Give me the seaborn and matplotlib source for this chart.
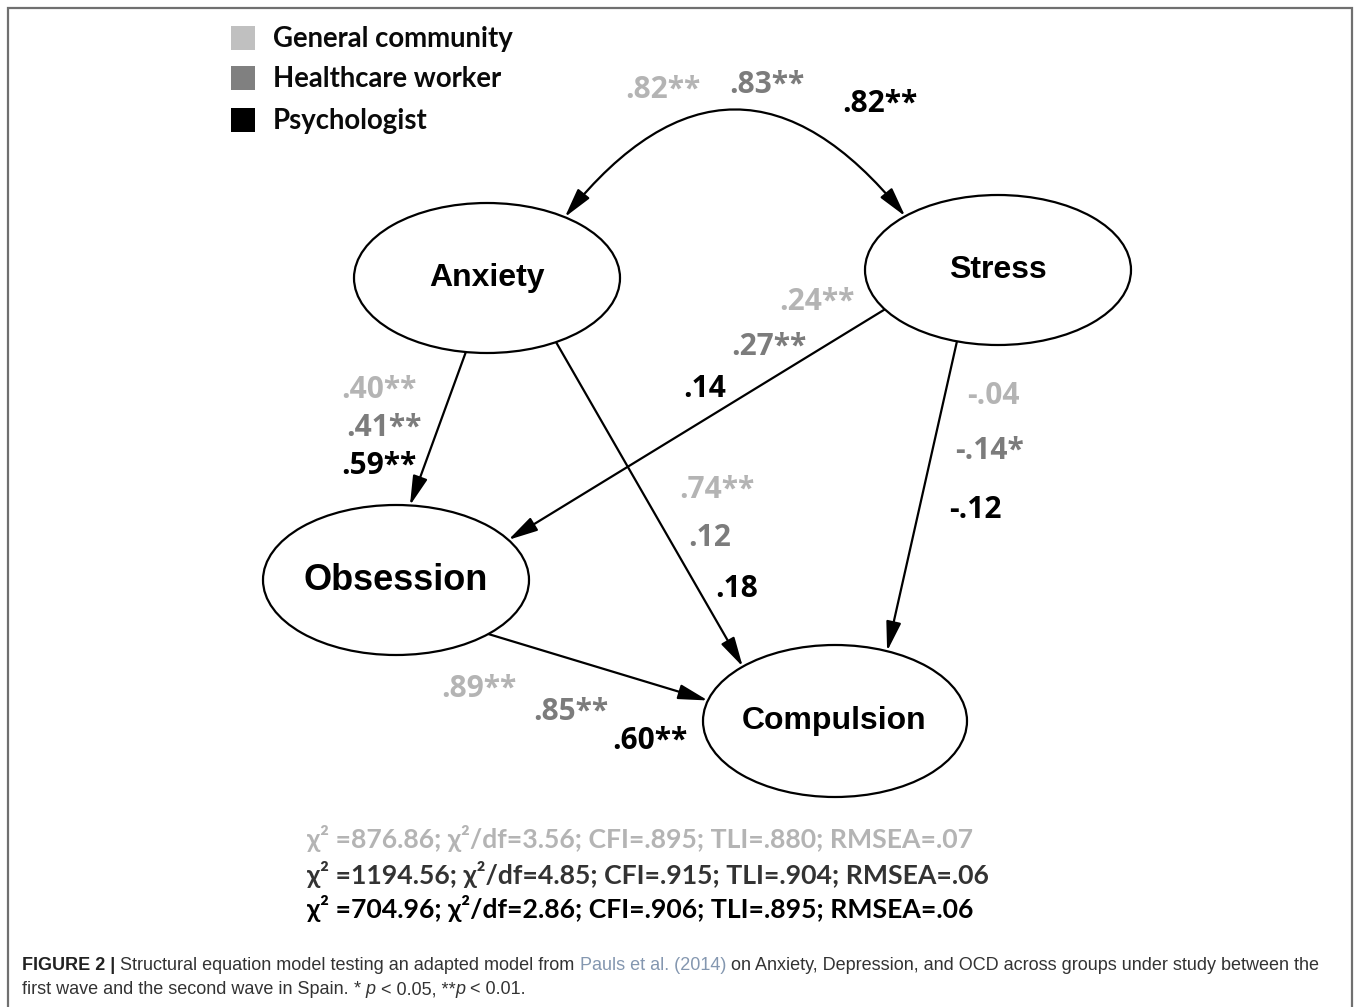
import matplotlib
matplotlib.use('Agg')
import numpy as np
import pandas as pd
import seaborn as sns
import matplotlib.pyplot as plt
from matplotlib.patches import Ellipse, FancyArrowPatch

# groups (legend) and their colours
groups = ['General community', 'Healthcare worker', 'Psychologist']
group_colors = ['#c0c0c0', '#808080', '#000000']
text_colors = ['#b4b4b4', '#7c7c7c', '#000000']

# latent variables
nodes = ['Anxiety', 'Stress', 'Obsession', 'Compulsion']

# path coefficients, one value per group (general, healthcare, psychologist)
paths = [
    ('Anxiety', 'Stress'),
    ('Stress', 'Obsession'),
    ('Anxiety', 'Obsession'),
    ('Stress', 'Compulsion'),
    ('Anxiety', 'Compulsion'),
    ('Obsession', 'Compulsion'),
]
coef_general = ['.82**', '.24**', '.40**', '-.04', '.74**', '.89**']
coef_health = ['.83**', '.27**', '.41**', '-.14*', '.12', '.85**']
coef_psych = ['.82**', '.14', '.59**', '-.12', '.18', '.60**']

# fit indices per group
fit_chi2 = ['876.86', '1194.56', '704.96']
fit_chi2df = ['3.56', '4.85', '2.86']
fit_cfi = ['.895', '.915', '.906']
fit_tli = ['.880', '.904', '.895']
fit_rmsea = ['.07', '.06', '.06']
fit_colors = ['#b4b4b4', '#333333', '#000000']

W, H = 1358, 1007

# ---- layout (pixel space) ----
node_pos = {
    'Anxiety': (487, 278, 133, 75),
    'Stress': (998, 270, 133, 75),
    'Obsession': (396, 580, 133, 75),
    'Compulsion': (835, 721, 132, 76),
}
node_size = {'Anxiety': 23, 'Stress': 23, 'Obsession': 26, 'Compulsion': 23}
node_label = {'Anxiety': (487, 278), 'Stress': (998, 270),
              'Obsession': (396, 580), 'Compulsion': (834, 721)}
# rough anchor points on the ellipses, snapped onto the outline below
edge_anchor = {
    ('Anxiety', 'Stress'): ((565, 217), (903, 215)),
    ('Stress', 'Obsession'): ((883, 310), (508, 540)),
    ('Anxiety', 'Obsession'): ((465, 355), (410, 505)),
    ('Stress', 'Compulsion'): ((956, 343), (888, 650)),
    ('Anxiety', 'Compulsion'): ((557, 343), (740, 665)),
    ('Obsession', 'Compulsion'): ((490, 635), (705, 700)),
}
label_pos = {
    ('Anxiety', 'Stress'): [(663, 90), (767, 85), (880, 104)],
    ('Stress', 'Obsession'): [(817, 302), (769, 347), (705, 389)],
    ('Anxiety', 'Obsession'): [(379, 390), (384, 428), (379, 466)],
    ('Stress', 'Compulsion'): [(993, 396), (989, 451), (975, 510)],
    ('Anxiety', 'Compulsion'): [(717, 490), (710, 538), (737, 589)],
    ('Obsession', 'Compulsion'): [(479, 689), (571, 712), (650, 741)],
}

CAL = ['Lato', 'Open Sans', 'DejaVu Sans']
COEF = ['Open Sans', 'DejaVu Sans']


def snap(node, p):
    cx, cy, a, b = node_pos[node]
    t = np.arctan2((p[1] - cy) / b, (p[0] - cx) / a)
    return (cx + a * np.cos(t), cy + b * np.sin(t))


sns.set_theme(style='white')
fig = plt.figure(figsize=(W / 100, H / 100), dpi=100)
ax = fig.add_axes([0, 0, 1, 1])
ax.set_xlim(0, W)
ax.set_ylim(H, 0)
ax.axis('off')

# frame
ax.plot([8, 8, 1352, 1352], [H + 5, 8, 8, H + 5], color='#707070', lw=1.6,
        solid_joinstyle='miter')

# legend squares through seaborn
leg = pd.DataFrame({'group': groups, 'x': [243] * 3, 'y': [38, 78, 120]})
sns.scatterplot(data=leg, x='x', y='y', hue='group', palette=group_colors,
                marker='s', s=300, linewidth=0, legend=False, ax=ax)
for g, y in zip(groups, leg['y']):
    ax.text(273, y + 1, g, ha='left', va='center', fontsize=19.8,
            fontweight='bold', family=CAL, color='#0a0a0a')

# nodes
for n in nodes:
    cx, cy, a, b = node_pos[n]
    ax.add_patch(Ellipse((cx, cy), 2 * a, 2 * b, facecolor='white',
                         edgecolor='black', lw=1.6, zorder=3))
    lx, ly = node_label[n]
    ax.text(lx, ly, n, ha='center', va='center', fontsize=node_size[n],
            fontweight='bold', family=['Liberation Sans', 'DejaVu Sans'],
            color='black', zorder=4)

# paths
head = 'head_length=1.5,head_width=0.38'
for k, (src, dst) in enumerate(paths):
    pa, pb = edge_anchor[(src, dst)]
    p0, p1 = snap(src, pa), snap(dst, pb)
    if k == 0:
        arr = FancyArrowPatch(p0, p1, arrowstyle='<|-|>,' + head,
                              connectionstyle='arc3,rad=-0.62', mutation_scale=12,
                              lw=1.6, color='black', shrinkA=0, shrinkB=0, zorder=2)
    else:
        arr = FancyArrowPatch(p0, p1, arrowstyle='-|>,' + head,
                              mutation_scale=12, lw=1.6, color='black',
                              shrinkA=0, shrinkB=0, zorder=2)
    ax.add_patch(arr)
    vals = [coef_general[k], coef_health[k], coef_psych[k]]
    for v, (x, y), c in zip(vals, label_pos[(src, dst)], text_colors):
        ax.text(x, y, v, ha='center', va='center', fontsize=21.5,
                fontweight='bold', family=COEF, color=c, zorder=5)

# fit indices
for i in range(3):
    s = (f'χ² ={fit_chi2[i]}; χ²/df={fit_chi2df[i]}; CFI={fit_cfi[i]}; '
         f'TLI={fit_tli[i]}; RMSEA={fit_rmsea[i]}')
    ax.text(307, [839, 875, 908][i], s, ha='left', va='center', fontsize=19.2,
            fontweight='bold', family=CAL, color=fit_colors[i])

# caption, built piece by piece
fig.canvas.draw()
renderer = fig.canvas.get_renderer()
CAP = ['Liberation Sans', 'DejaVu Sans']


def run(x, y, pieces, size=13.0):
    for txt, kw in pieces:
        t = ax.text(x, y, txt, ha='left', va='center', fontsize=size,
                    family=CAP, **kw)
        bb = t.get_window_extent(renderer=renderer)
        x = ax.transData.inverted().transform((bb.x1, bb.y0))[0]
    return x


run(22, 965, [
    ('FIGURE 2 | ', dict(fontweight='bold', color='#222222')),
    ('Structural equation model testing an adapted model from ', dict(color='#333333')),
    ('Pauls et al. (2014)', dict(color='#8497b0')),
    (' on Anxiety, Depression, and OCD across groups under study between the',
     dict(color='#333333')),
])
run(22, 990, [
    ('first wave and the second wave in Spain. ', dict(color='#333333')),
    ('* ', dict(color='#333333')),
    ('p', dict(color='#333333', style='italic')),
    (' < 0.05, **', dict(color='#333333')),
    ('p', dict(color='#333333', style='italic')),
    (' < 0.01.', dict(color='#333333')),
])

fig.savefig('out.png', dpi=100)
